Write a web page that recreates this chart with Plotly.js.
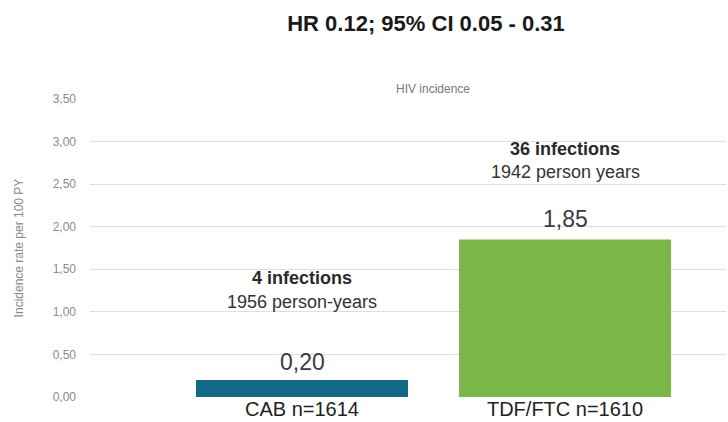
<!DOCTYPE html>
<html>
<head>
<meta charset="utf-8">
<script src="https://cdn.plot.ly/plotly-3.0.1.min.js"></script>
<style>html,body{margin:0;padding:0;background:#fff}#chart{width:728px;height:422px}</style>
</head>
<body>
<div id="chart"></div>
<script>
const categories = ["CAB n=1614", "TDF/FTC n=1610"];
const incidence = [0.20, 1.85];
const valueLabels = ["0,20", "1,85"];
const infectionLabels = ["4 infections", "36 infections"];
const personYearLabels = ["1956 person-years", "1942 person years"];
const barColors = ["#126a86", "#7ab649"];
const tickValues = [0, 0.5, 1, 1.5, 2, 2.5, 3, 3.5];
const tickLabels = ["0,00", "0,50", "1,00", "1,50", "2,00", "2,50", "3,00", "3,50"];

const FONT = "Liberation Sans, Arial, sans-serif";

const trace = {
  type: "bar",
  x: categories,
  y: incidence,
  width: 0.806,
  marker: {color: barColors, line: {width: 0}},
  textposition: "none",
  hoverinfo: "skip"
};

// offsets (px above bar top) for annotation lines
const valueShift = [18, 20];
const pyShift = [78, 67];
const infShift = [102, 90];

const annotations = [];
categories.forEach((c, i) => {
  annotations.push({x: c, y: incidence[i], xref: "x", yref: "y", text: valueLabels[i], showarrow: false,
    yshift: valueShift[i], font: {family: FONT, size: 23, color: "#3a3a3a"}});
  annotations.push({x: c, y: incidence[i], xref: "x", yref: "y", text: personYearLabels[i], showarrow: false,
    yshift: pyShift[i], font: {family: FONT, size: 18, color: "#333"}});
  annotations.push({x: c, y: incidence[i], xref: "x", yref: "y", text: "<b>" + infectionLabels[i] + "</b>", showarrow: false,
    yshift: infShift[i], font: {family: FONT, size: 18, color: "#2a2a2a"}});
});
annotations.push({x: (433 - 90) / (728 - 92), y: 1 + (99 - 80) / (422 - 124), xref: "paper", yref: "paper",
  text: "HIV incidence", showarrow: false, font: {family: FONT, size: 12, color: "#777"}});

const layout = {
  width: 728, height: 422,
  margin: {l: 90, r: 2, t: 99, b: 25},
  paper_bgcolor: "#fff", plot_bgcolor: "#fff",
  showlegend: false,
  title: {text: "<b>HR 0.12; 95% CI 0.05 - 0.31</b>", x: 426/728, xanchor: "center", y: 1 - 23/422, yanchor: "middle",
    font: {family: FONT, size: 22, color: "#1a1a1a"}},
  xaxis: {type: "category", range: [-0.806, 1.612], showgrid: false, zeroline: false, showline: false,
    ticks: "", ticklabelstandoff: -2, tickfont: {family: FONT, size: 20, color: "#222"}, fixedrange: true},
  yaxis: {range: [0, 3.5], tickvals: tickValues, ticktext: tickLabels, showgrid: true, gridcolor: "#dedede",
    gridwidth: 1, zeroline: false, showline: false, ticks: "", ticklabelstandoff: 13,
    tickfont: {family: FONT, size: 12, color: "#8a8a8a"},
    title: {text: "Incidence rate per 100 PY", font: {family: FONT, size: 12, color: "#888"}, standoff: 26}},
  annotations: annotations
};

Plotly.newPlot("chart", [trace], layout, {staticPlot: true, displayModeBar: false});
</script>
</body>
</html>
